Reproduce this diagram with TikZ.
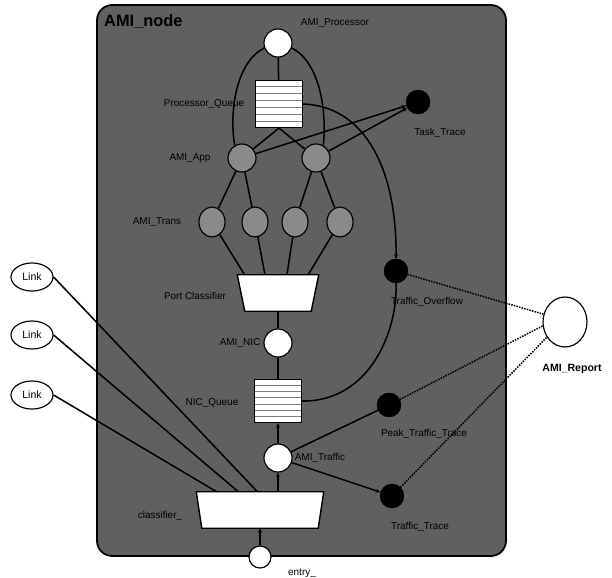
\documentclass[tikz,border=0pt]{standalone}
\usepackage{fontspec}
\setmainfont{Liberation Sans}
\usetikzlibrary{shapes.geometric,arrows.meta,positioning,calc}
\definecolor{nodebg}{RGB}{96,96,96}
\definecolor{appfill}{RGB}{138,138,138}
\definecolor{stripe}{RGB}{125,125,125}

\begin{document}
\begin{tikzpicture}[
    x=0.03cm, y=-0.03cm,
    lbl/.style={font=\fontsize{8.5}{10}\selectfont, inner sep=0pt},
    wcirc/.style={circle, draw, fill=white, line width=1pt, minimum size=0.84cm, inner sep=0pt},
    gcirc/.style={circle, draw, fill=appfill, line width=1pt, minimum size=0.84cm, inner sep=0pt},
    trans/.style={ellipse, draw, fill=appfill, line width=1pt, minimum width=0.78cm, minimum height=0.9cm, inner sep=0pt},
    probe/.style={circle, draw, fill=black, minimum size=0.72cm, inner sep=0pt},
    queue/.style={rectangle, draw, fill=white, line width=1pt, minimum width=1.41cm, minimum height=1.41cm, inner sep=0pt},
    classbox/.style={rectangle, minimum height=1.08cm, inner sep=0pt},
    linkbox/.style={ellipse, draw, fill=white, line width=1pt, minimum width=1.26cm, minimum height=0.84cm, inner sep=0pt, font=\fontsize{9}{10}\selectfont},
    conn/.style={line width=1.3pt},
    arrow/.style={conn, -{Stealth[length=4pt,width=3.5pt]}},
    report/.style={conn, densely dotted}
]
\useasboundingbox (0,0) rectangle (612,577);

% AMI node frame
\draw[fill=nodebg, line width=1.5pt, rounded corners=13pt] (97,5) rectangle (506,556);
\node[anchor=west, inner sep=0pt, font=\fontsize{14}{16}\selectfont\bfseries] (title) at (104,22) {AMI\_node};

% inner nodes
\node[wcirc] (proc) at (278,43) {};
\node[queue] (pq) at (279,104) {};
\node[gcirc] (app1) at (242,158) {};
\node[gcirc] (app2) at (316,158) {};
\node[trans] (tr1) at (212,222) {};
\node[trans] (tr2) at (255,222) {};
\node[trans] (tr3) at (295,222) {};
\node[trans] (tr4) at (340,222) {};
\node[classbox, minimum width=2.43cm] (port) at (278,293) {};
\node[wcirc] (nic) at (278,343) {};
\node[queue, minimum height=1.29cm] (nq) at (278,401) {};
\node[wcirc] (traffic) at (278,458) {};
\node[classbox, minimum width=3.81cm] (cls) at (260,510) {};
\node[wcirc, minimum size=0.66cm] (entry) at (260,557) {};

% classifier outlines
\draw[fill=white, line width=1.2pt] (port.north west) -- (port.north east)
  -- ($(port.south east)+(-7.5,0)$) -- ($(port.south west)+(7.5,0)$) -- cycle;
\draw[fill=white, line width=1.2pt] (cls.north west) -- (cls.north east)
  -- ($(cls.south east)+(-5.5,0)$) -- ($(cls.south west)+(5.5,0)$) -- cycle;

% probes and report
\node[probe] (task) at (418,102) {};
\node[probe] (tover) at (396,271) {};
\node[probe] (peak) at (389,405) {};
\node[probe] (ttrace) at (392,496) {};
\node[ellipse, draw, fill=white, line width=1pt, minimum width=1.32cm, minimum height=1.5cm] (rep) at (565,322) {};

% links
\node[linkbox] (link1) at (32,277) {Link};
\node[linkbox] (link2) at (32,335) {Link};
\node[linkbox] (link3) at (32,395) {Link};

% queue stripes
\foreach \q in {pq,nq}
  \foreach \k in {1,...,6}
    \draw[stripe, line width=0.8pt, shorten >=1pt, shorten <=1pt]
      ($(\q.north west)!\k/7!(\q.south west)$) -- ($(\q.north east)!\k/7!(\q.south east)$);

% labels
\node[lbl] (lproc) at (335,23) {AMI\_Processor};
\node[lbl] (lpq) at (204,104) {Processor\_Queue};
\node[lbl] (ltask) at (440,133) {Task\_Trace};
\node[lbl] (lapp) at (190,158) {AMI\_App};
\node[lbl] (ltrans) at (157,222) {AMI\_Trans};
\node[lbl] (lport) at (195,296) {Port Classifier};
\node[lbl] (lnic) at (240,343) {AMI\_NIC};
\node[lbl] (lnq) at (212,403) {NIC\_Queue};
\node[lbl] (ltraffic) at (320,458) {AMI\_Traffic};
\node[lbl] (lcls) at (160,516) {classifier\_};
\node[lbl] (lentry) at (302,573) {entry\_};
\node[lbl] (ltover) at (427,302) {Traffic\_Overflow};
\node[lbl] (lpeak) at (424,434) {Peak\_Traffic\_Trace};
\node[lbl] (lttrace) at (420,527) {Traffic\_Trace};
\node[lbl, font=\fontsize{9}{10}\selectfont\bfseries] (lrep) at (572,369) {AMI\_Report};

% processor part
\draw[conn] (proc) -- (pq);
\draw[conn] (pq.south) -- (app1);
\draw[conn] (pq.south) -- (app2);
\draw[conn] (proc.200) .. controls (236,62) and (229,112) .. (app1.120);
\draw[conn] (proc.-20) .. controls (320,62) and (327,112) .. (app2.60);
\draw[arrow] (app1) -- (task);
\draw[arrow] (app2) -- (task);
\draw[arrow] (pq.east) .. controls (365,106) and (397,170) .. (tover.north);

% transport part
\draw[conn] (app1) -- (tr1);
\draw[conn] (app1) -- (tr2);
\draw[conn] (app2) -- (tr3);
\draw[conn] (app2) -- (tr4);
\draw[conn] (tr1) -- ($(port.north west)!0.09!(port.north east)$);
\draw[conn] (tr2) -- ($(port.north west)!0.34!(port.north east)$);
\draw[conn] (tr3) -- ($(port.north west)!0.61!(port.north east)$);
\draw[conn] (tr4) -- ($(port.north west)!0.87!(port.north east)$);

% network part
\draw[conn] (port.south) -- (nic);
\draw[conn] (nic) -- (nq);
\draw[arrow] (traffic) -- (nq);
\draw[arrow] (cls.north -| traffic) -- (traffic);
\draw[arrow] (entry) -- (cls.south);
\draw[conn] (nq.east) .. controls (370,402) and (398,330) .. (tover.south);
\draw[conn] (traffic) -- (peak);
\draw[arrow] (traffic) -- (ttrace);

% links into classifier
\draw[conn] (link1.east) -- ($(cls.north west)!0.48!(cls.north east)$);
\draw[conn] (link2.east) -- ($(cls.north west)!0.33!(cls.north east)$);
\draw[conn] (link3.east) -- ($(cls.north west)!0.16!(cls.north east)$);

% report
\draw[report] (tover) -- (rep.160);
\draw[report] (peak) -- (rep.190);
\draw[report] (ttrace) -- (rep.220);
\end{tikzpicture}
\end{document}
